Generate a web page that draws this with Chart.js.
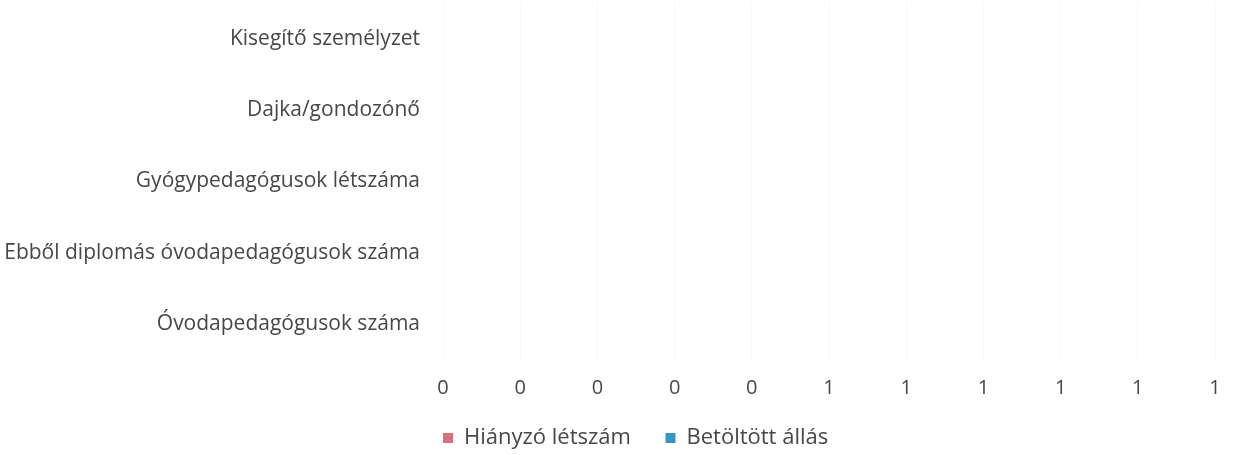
<!DOCTYPE html>
<html>
<head>
<meta charset="utf-8">
<script src="https://cdn.jsdelivr.net/npm/chart.js@4.4.1/dist/chart.umd.min.js"></script>
<style>
  html, body { margin: 0; padding: 0; background: #fff; }
  #wrap { width: 1248px; height: 455px; }
</style>
</head>
<body>
<div id="wrap"><canvas id="chart" width="1248" height="455"></canvas></div>
<script>
// categories, top to bottom as in the picture
const categories = [
  'Kisegítő személyzet',
  'Dajka/gondozónő',
  'Gyógypedagógusok létszáma',
  'Ebből diplomás óvodapedagógusok száma',
  'Óvodapedagógusok száma'
];

// both series are empty in the source (no bars drawn)
const hianyzo = [0, 0, 0, 0, 0];
const betoltott = [0, 0, 0, 0, 0];

// x axis runs 0..1 in steps of 0.1, shown with no decimals
const xMin = 0;
const xMax = 1;
const xStep = 0.1;

const textColor = '#474747';
const fontFamily = '"Open Sans", sans-serif';
const plotLeft = 443;
const legendPad = 6;

// move the legend row so its first box sits under the plot's left edge
const legendShift = {
  id: 'legendShift',
  afterLayout(chart) {
    const lg = chart.legend;
    if (!lg || !lg.lineWidths) return;
    const start = (lg.left + legendPad + lg.right - lg.lineWidths[0]) / 2;
    const dx = plotLeft - start;
    lg.left += dx;
    lg.right += dx;
  }
};

new Chart(document.getElementById('chart').getContext('2d'), {
  type: 'bar',
  data: {
    labels: categories,
    datasets: [
      {
        label: 'Hiányzó létszám',
        data: hianyzo,
        backgroundColor: '#d9707e',
        borderWidth: 0
      },
      {
        label: 'Betöltött állás',
        data: betoltott,
        backgroundColor: '#3b94c7',
        borderWidth: 0
      }
    ]
  },
  plugins: [legendShift],
  options: {
    indexAxis: 'y',
    responsive: false,
    animation: false,
    layout: {
      padding: { left: 0, right: 33, top: 3, bottom: -4 }
    },
    plugins: {
      tooltip: { enabled: false },
      legend: {
        position: 'bottom',
        labels: {
          boxWidth: 10,
          boxHeight: 10,
          padding: legendPad,
          color: textColor,
          font: { family: fontFamily, size: 22 },
          // extra room after each entry, like the wide gap in the original
          generateLabels: (chart) => {
            const items = Chart.defaults.plugins.legend.labels.generateLabels(chart);
            items.forEach((item, i) => {
              if (i < items.length - 1) item.text = item.text + '     ';
              item.lineWidth = 0;
            });
            return items;
          }
        }
      }
    },
    scales: {
      x: {
        stacked: true,
        min: xMin,
        max: xMax,
        border: { display: false },
        grid: { color: '#f7f7f7', drawTicks: false },
        ticks: {
          stepSize: xStep,
          padding: 16,
          color: textColor,
          font: { family: fontFamily, size: 20 },
          callback: v => Math.round(v).toString()
        },
        afterFit: (scale) => { scale.height += 5; }
      },
      y: {
        stacked: true,
        border: { display: false },
        grid: { display: false, drawTicks: false },
        ticks: {
          padding: 23,
          color: textColor,
          font: { family: fontFamily, size: 21 }
        },
        afterFit: (scale) => {
          scale.width = plotLeft;
          scale.paddingTop = 0;
          scale.paddingBottom = 0;
        }
      }
    }
  }
});
</script>
</body>
</html>
